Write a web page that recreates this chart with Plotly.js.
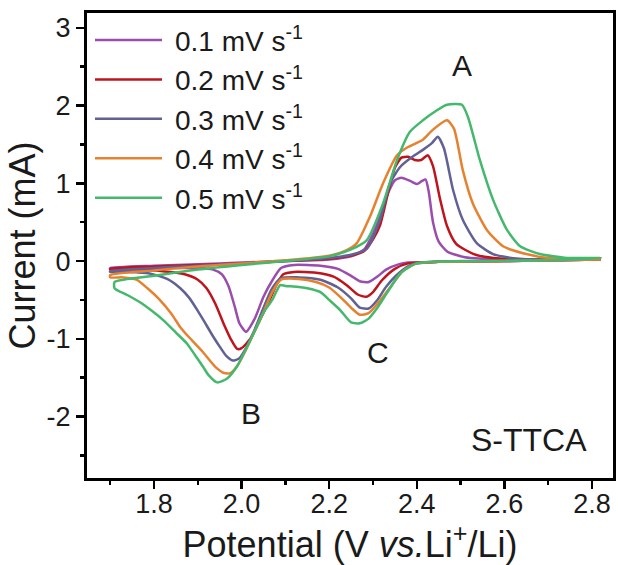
<!DOCTYPE html>
<html>
<head>
<meta charset="utf-8">
<script src="https://cdn.plot.ly/plotly-3.0.1.min.js"></script>
<style>
html,body{margin:0;padding:0;background:#fff;}
#chart{width:618px;height:565px;}
</style>
</head>
<body>
<div id="chart"></div>
<script>
// ---- data (potential in V vs Li+/Li, current in mA) ----
var seriesNames = ["0.1 mV s<sup>-1</sup>", "0.2 mV s<sup>-1</sup>", "0.3 mV s<sup>-1</sup>", "0.4 mV s<sup>-1</sup>", "0.5 mV s<sup>-1</sup>"];

var v01_x = [2.82,2.6,2.45,2.38,2.36,2.33,2.31,2.29,2.27,2.25,2.22,2.18,2.12,2.09,2.07,2.05,2.03,2.01,1.995,1.985,1.97,1.955,1.935,1.9,1.8,1.70,
             1.70,1.8,1.9,2.0,2.1,2.2,2.25,2.28,2.30,2.316,2.334,2.35,2.365,2.385,2.40,2.412,2.42,2.427,2.437,2.45,2.47,2.51,2.6,2.82];
var v01_y = [0.02,0.0,-0.01,-0.02,-0.04,-0.11,-0.2,-0.27,-0.26,-0.19,-0.10,-0.06,-0.05,-0.09,-0.25,-0.46,-0.74,-0.91,-0.80,-0.6,-0.32,-0.17,-0.11,-0.09,-0.09,-0.10,
             -0.09,-0.06,-0.04,-0.02,0.0,0.02,0.06,0.15,0.35,0.57,0.87,1.04,1.07,1.03,0.99,1.03,1.05,0.9,0.5,0.25,0.12,0.05,0.02,0.03];

var v02_x = [2.82,2.6,2.45,2.38,2.35,2.32,2.30,2.285,2.265,2.24,2.21,2.17,2.12,2.095,2.08,2.06,2.04,2.02,2.00,1.99,1.975,1.96,1.94,1.92,1.9,1.87,1.82,1.75,1.70,
             1.70,1.8,1.9,2.0,2.1,2.2,2.25,2.28,2.30,2.316,2.334,2.35,2.365,2.38,2.395,2.41,2.425,2.437,2.453,2.469,2.49,2.53,2.575,2.7,2.82];
var v02_y = [0.02,0.0,-0.01,-0.03,-0.10,-0.25,-0.40,-0.46,-0.43,-0.31,-0.2,-0.15,-0.14,-0.17,-0.3,-0.55,-0.78,-1.0,-1.12,-1.13,-1.0,-0.82,-0.55,-0.35,-0.24,-0.17,-0.13,-0.11,-0.11,
             -0.10,-0.07,-0.05,-0.03,0.0,0.03,0.07,0.13,0.28,0.46,0.87,1.2,1.33,1.34,1.30,1.30,1.36,1.22,0.8,0.45,0.22,0.09,0.04,0.02,0.03];

var v03_x = [2.82,2.6,2.45,2.39,2.36,2.33,2.31,2.29,2.27,2.25,2.22,2.18,2.13,2.09,2.07,2.05,2.03,2.01,1.995,1.98,1.965,1.95,1.935,1.915,1.9,1.88,1.86,1.83,1.79,1.74,1.70,
             1.70,1.8,1.9,2.0,2.1,2.2,2.25,2.286,2.316,2.339,2.362,2.39,2.414,2.435,2.448,2.462,2.483,2.505,2.537,2.574,2.63,2.82];
var v03_y = [0.02,0.0,-0.01,-0.04,-0.15,-0.33,-0.5,-0.61,-0.60,-0.48,-0.34,-0.24,-0.21,-0.22,-0.35,-0.6,-0.88,-1.12,-1.25,-1.28,-1.22,-1.1,-0.97,-0.78,-0.64,-0.47,-0.35,-0.23,-0.16,-0.14,-0.14,
             -0.13,-0.09,-0.06,-0.03,0.0,0.04,0.08,0.16,0.53,1.0,1.21,1.34,1.43,1.52,1.60,1.45,0.91,0.53,0.23,0.09,0.03,0.03];

var v04_x = [2.82,2.6,2.45,2.40,2.37,2.335,2.31,2.29,2.27,2.25,2.225,2.20,2.17,2.13,2.09,2.07,2.05,2.03,2.01,1.99,1.975,1.96,1.94,1.91,1.88,1.86,1.84,1.81,1.785,1.76,1.73,1.70,
             1.70,1.8,1.9,2.0,2.1,2.2,2.24,2.263,2.293,2.323,2.355,2.378,2.40,2.414,2.437,2.469,2.485,2.505,2.528,2.56,2.597,2.65,2.70,2.82];
var v04_y = [0.02,0.0,-0.01,-0.03,-0.12,-0.37,-0.55,-0.67,-0.69,-0.6,-0.46,-0.34,-0.27,-0.23,-0.24,-0.40,-0.66,-0.90,-1.14,-1.35,-1.44,-1.44,-1.36,-1.16,-0.98,-0.85,-0.68,-0.48,-0.35,-0.24,-0.21,-0.21,
             -0.18,-0.12,-0.07,-0.03,0.01,0.07,0.14,0.23,0.57,1.0,1.36,1.46,1.52,1.56,1.69,1.81,1.70,1.17,0.74,0.40,0.19,0.09,0.04,0.03];

var v05_x = [2.82,2.7,2.5,2.40,2.362,2.332,2.31,2.29,2.27,2.25,2.225,2.20,2.18,2.15,2.126,2.10,2.088,2.07,2.049,2.03,2.012,1.99,1.967,1.944,1.925,1.912,1.895,1.875,1.85,1.821,1.795,1.768,1.74,1.71,
             1.71,1.8,1.9,2.0,2.1,2.2,2.25,2.286,2.323,2.355,2.384,2.414,2.446,2.469,2.503,2.517,2.544,2.574,2.606,2.636,2.681,2.743,2.82];
var v05_y = [0.04,0.01,0.0,-0.03,-0.16,-0.41,-0.6,-0.74,-0.80,-0.79,-0.63,-0.50,-0.40,-0.35,-0.33,-0.32,-0.31,-0.5,-0.67,-0.9,-1.11,-1.35,-1.51,-1.56,-1.47,-1.36,-1.22,-1.06,-0.92,-0.76,-0.64,-0.53,-0.44,-0.35,
             -0.27,-0.19,-0.11,-0.05,0.0,0.06,0.15,0.27,0.74,1.30,1.66,1.81,1.94,2.01,2.01,1.85,1.30,0.79,0.40,0.19,0.09,0.04,0.04];

var xTickVals = [1.8, 2.0, 2.2, 2.4, 2.6, 2.8];
var xTickText = ["1.8", "2.0", "2.2", "2.4", "2.6", "2.8"];
var yTickVals = [-2, -1, 0, 1, 2, 3];
var yTickText = ["-2", "-1", "0", "1", "2", "3"];

// ---- styling ----
var colors = ["#9b4dae", "#c0141c", "#626194", "#e6822f", "#44b86c"];
var FONT = "Liberation Sans, Arial, sans-serif";
var TXT = "#1a1a1a";
var xs = [v01_x, v02_x, v03_x, v04_x, v05_x];
var ys = [v01_y, v02_y, v03_y, v04_y, v05_y];

var traces = xs.map(function (x, i) {
  return {
    x: x, y: ys[i], type: "scatter", mode: "lines",
    name: seriesNames[i],
    line: {color: colors[i], width: 2.5, shape: "spline", smoothing: 0.6}
  };
});

var axisCommon = {
  showline: true, linecolor: "#000", linewidth: 3, mirror: true,
  ticks: "outside", ticklen: 8, tickwidth: 2.5, tickcolor: "#000",
  showgrid: false, zeroline: false,
  tickfont: {family: FONT, size: 27, color: TXT}
};

var layout = {
  width: 618, height: 565,
  margin: {l: 87, r: 5, t: 13, b: 87},
  paper_bgcolor: "#fff", plot_bgcolor: "#fff",
  font: {family: FONT, color: TXT},
  showlegend: true,
  legend: {x: 0.0057, y: 0.995, xanchor: "left", yanchor: "top", bgcolor: "rgba(0,0,0,0)",
           font: {family: FONT, size: 28, color: TXT}, itemwidth: 75},
  xaxis: Object.assign({}, axisCommon, {
    range: [1.647, 2.848], tickvals: xTickVals, ticktext: xTickText, ticklabelstandoff: -8,
    minor: {dtick: 0.1, tick0: 1.7, ticks: "outside", ticklen: 4, tickwidth: 2.5, tickcolor: "#000"},
    title: {text: "Potential (V <i>vs.</i>Li<sup>+</sup>/Li)", font: {family: FONT, size: 36, color: TXT}, standoff: 0}
  }),
  yaxis: Object.assign({}, axisCommon, {
    range: [-2.79, 3.19], tickvals: yTickVals, ticktext: yTickText,
    minor: {dtick: 0.5, tick0: 0, ticks: "outside", ticklen: 4, tickwidth: 2.5, tickcolor: "#000"},
    title: {text: "Current (mA)", font: {family: FONT, size: 36, color: TXT}, standoff: 0}
  }),
  annotations: [
    {x: 2.503, y: 2.52, text: "A", showarrow: false, font: {family: FONT, size: 30, color: TXT}},
    {x: 2.021, y: -1.956, text: "B", showarrow: false, font: {family: FONT, size: 30, color: TXT}},
    {x: 2.311, y: -1.171, text: "C", showarrow: false, font: {family: FONT, size: 30, color: TXT}},
    {x: 2.656, y: -2.30, text: "S-TTCA", showarrow: false, font: {family: FONT, size: 32, color: TXT}}
  ]
};

Plotly.newPlot("chart", traces, layout, {staticPlot: true, displayModeBar: false}).then(function (gd) {
  // lengthen legend line samples to match the reference
  gd.querySelectorAll(".legend .legendlines path").forEach(function (p) {
    p.setAttribute("d", "M5,0h67");
  });
});
</script>
</body>
</html>
